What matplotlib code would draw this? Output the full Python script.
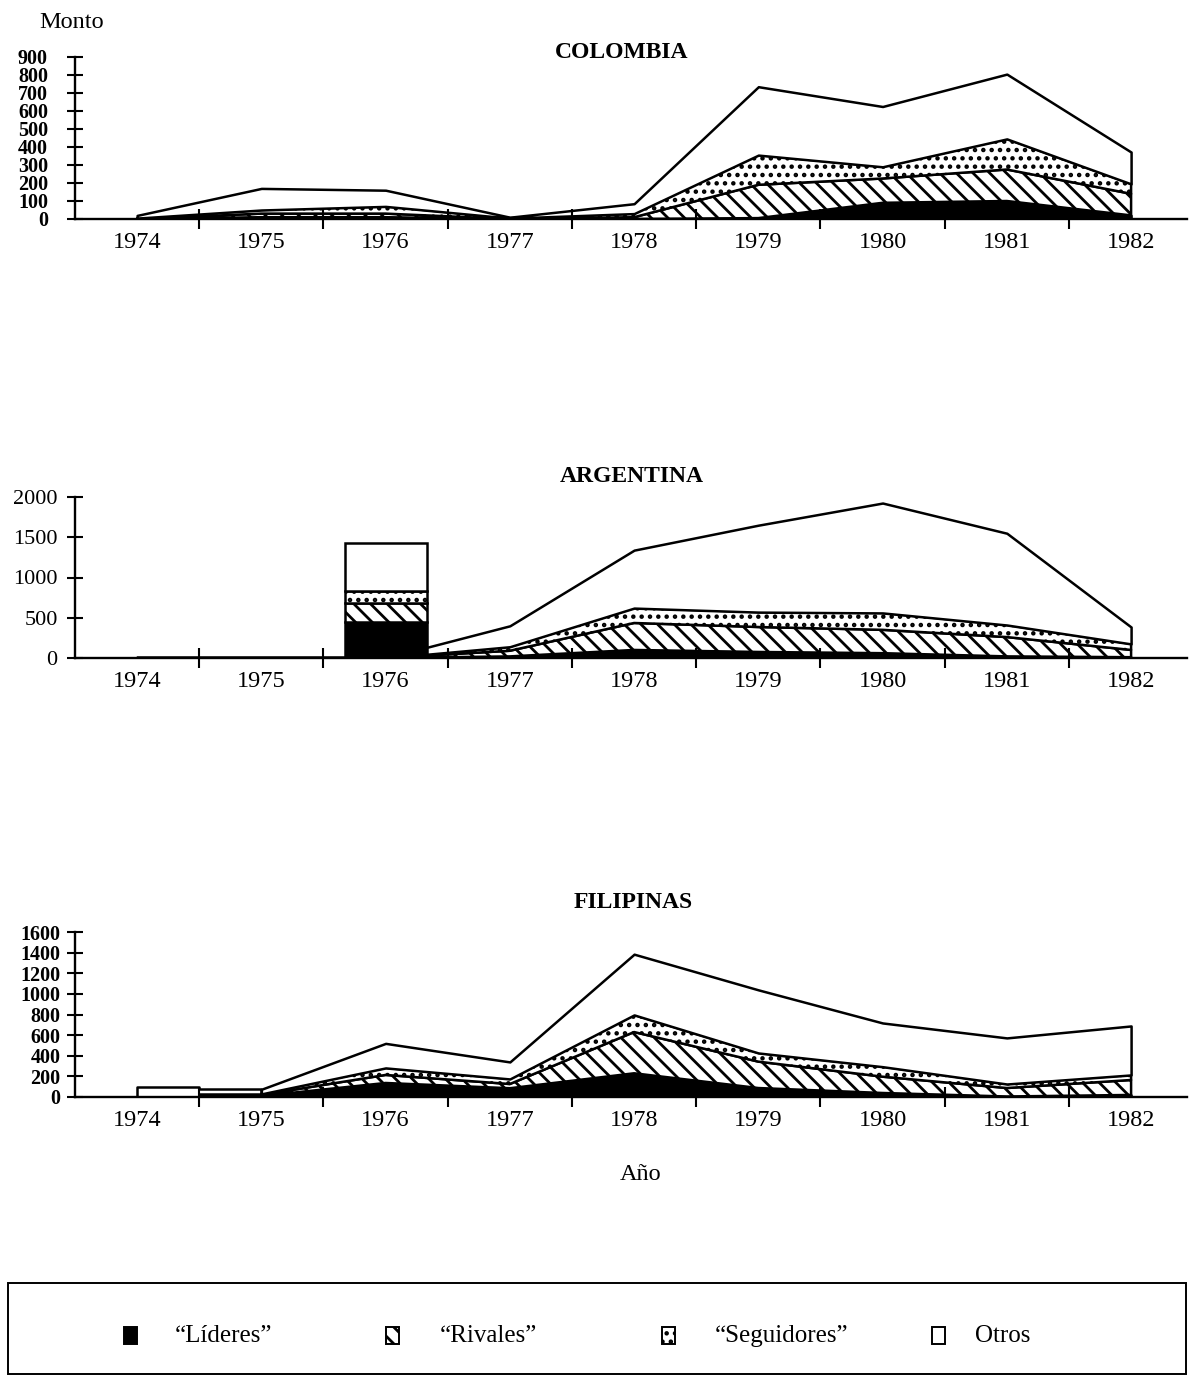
import matplotlib
matplotlib.use('Agg')  # sin pantalla
import matplotlib.pyplot as plt
from matplotlib.patches import Rectangle
import numpy as np

plt.rcParams['font.family'] = ['Liberation Serif', 'DejaVu Serif']
plt.rcParams['hatch.linewidth'] = 2.0
plt.rcParams['hatch.color'] = 'black'

years = [1974, 1975, 1976, 1977, 1978, 1979, 1980, 1981, 1982]

# Colombia
col_lideres = [0, 10, 10, 0, 0, 5, 90, 100, 20]
col_rivales = [0, 20, 20, 0, 10, 185, 135, 175, 120]
col_seguidores = [5, 20, 40, 5, 20, 165, 65, 170, 55]
col_otros = [15, 120, 90, 5, 55, 380, 335, 360, 177]

# Argentina (1976 aparece como un bloque aparte)
arg_lideres = [0, 0, 0, 20, 100, 75, 60, 20, 10]
arg_rivales = [0, 0, 0, 70, 335, 310, 290, 240, 90]
arg_seguidores = [0, 0, 0, 50, 185, 185, 210, 150, 75]
arg_otros = [0, 0, 0, 260, 720, 1080, 1365, 1140, 210]
arg_bloque_1976 = [450, 230, 150, 600]

# Filipinas (1974-1975 dibujado en escalones)
fil_lideres = [0, 10, 136, 85, 230, 87, 39, 5, 20]
fil_rivales = [0, 10, 78, 41, 400, 256, 158, 82, 145]
fil_seguidores = [0, 10, 68, 49, 166, 84, 97, 39, 49]
fil_otros = [100, 45, 238, 165, 589, 612, 424, 447, 475]

series_labels = ['\u201cL\u00edderes\u201d', '\u201cRivales\u201d', '\u201cSeguidores\u201d', 'Otros']
styles = [
    dict(facecolor='black'),
    dict(facecolor='white', hatch='\\\\'),
    dict(facecolor='white', hatch='..'),
    dict(facecolor='white'),
]

W, H, DPI = 1189, 1376, 100
fig = plt.figure(figsize=(W / DPI, H / DPI), dpi=DPI)


def add_px_axes(left, top, right, bottom):
    return fig.add_axes([left / W, 1 - bottom / H, (right - left) / W, (bottom - top) / H])


def draw_stack(ax, x, layers, step=None):
    base = np.zeros(len(x))
    for vals, st in zip(layers, styles):
        top = base + np.asarray(vals, dtype=float)
        ax.fill_between(x, base, top, step=step, edgecolor='black', linewidth=1.8, **st)
        base = top


def setup_panel(ax, ymax, yticks, ylab_size, ylab_weight, ypad):
    ax.set_facecolor('none')
    ax.set_xlim(1973.5, 1982.45)
    ax.set_ylim(0, ymax)
    ax.spines[['top', 'right']].set_visible(False)
    ax.spines['left'].set_bounds(0, ymax)
    for s in ('left', 'bottom'):
        ax.spines[s].set_linewidth(1.7)
    ax.set_xticks(years)
    ax.set_xticklabels([str(y) for y in years], fontsize=17.5)
    ax.tick_params(axis='x', which='major', length=0, pad=9)
    ax.set_xticks(np.arange(1974.5, 1982, 1), minor=True)
    ax.tick_params(axis='x', which='minor', direction='inout', length=15, width=1.5)
    ax.set_yticks(yticks)
    ax.set_yticklabels([str(v) for v in yticks], fontsize=ylab_size, fontweight=ylab_weight)
    ax.tick_params(axis='y', direction='inout', length=11, width=1.5, pad=ypad)


# COLOMBIA
ax1 = add_px_axes(75, 57, 1187, 219)
setup_panel(ax1, 900, list(range(0, 901, 100)), 14.5, 'bold', 14)
draw_stack(ax1, years, [col_lideres, col_rivales, col_seguidores, col_otros])

# ARGENTINA
ax2 = add_px_axes(75, 497, 1187, 658)
setup_panel(ax2, 2000, [0, 500, 1000, 1500, 2000], 16, 'normal', 7)
draw_stack(ax2, years, [arg_lideres, arg_rivales, arg_seguidores, arg_otros])
bottom = 0
for val, st in zip(arg_bloque_1976, styles):
    ax2.bar(1976, val, bottom=bottom, width=0.66, edgecolor='black', linewidth=1.8,
            zorder=3, **st)
    bottom += val

# FILIPINAS
ax3 = add_px_axes(75, 932, 1187, 1097)
setup_panel(ax3, 1600, list(range(0, 1601, 200)), 14.5, 'bold', 5)
fil_layers = [fil_lideres, fil_rivales, fil_seguidores, fil_otros]
draw_stack(ax3, years[:2], [v[:2] for v in fil_layers], step='mid')
draw_stack(ax3, years[1:], [v[1:] for v in fil_layers])

# textos y leyenda en coordenadas de pixel
ov = fig.add_axes([0, 0, 1, 1])
ov.set_xlim(0, W)
ov.set_ylim(H, 0)
ov.axis('off')
ov.text(72, 22, 'Monto', fontsize=17.5, ha='center', va='center')
ov.text(622, 52, 'COLOMBIA', fontsize=17, fontweight='bold', ha='center', va='center')
ov.text(632, 477, 'ARGENTINA', fontsize=17, fontweight='bold', ha='center', va='center')
ov.text(633, 902, 'FILIPINAS', fontsize=17, fontweight='bold', ha='center', va='center')
ov.text(641, 1175, 'A\u00f1o', fontsize=17.5, ha='center', va='center')

ov.add_patch(Rectangle((8, 1283), 1178, 91, fill=False, linewidth=1.4, edgecolor='black'))
icon_x = [124, 386, 662, 932]
text_x = [175, 440, 715, 975]
for ix, tx, lab, st in zip(icon_x, text_x, series_labels, styles):
    ov.add_patch(Rectangle((ix, 1327), 13, 17, edgecolor='black', linewidth=1.4, **st))
    ov.text(tx, 1336, lab, fontsize=18, ha='left', va='center')

fig.savefig('out.png', dpi=DPI)
plt.close(fig)
